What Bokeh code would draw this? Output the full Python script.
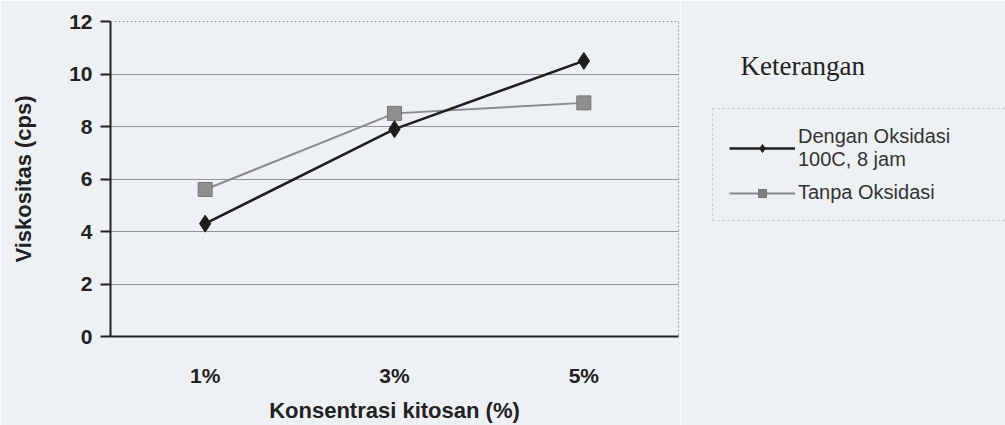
from bokeh.plotting import figure
from bokeh.layouts import row
from bokeh.models import Legend, LegendItem, Label, FixedTicker
from bokeh.embed import file_html
from bokeh.resources import INLINE

categories = ["1%", "3%", "5%"]
dengan_oksidasi = [4.3, 7.9, 10.5]
tanpa_oksidasi = [5.6, 8.5, 8.9]
y_ticks = [0, 2, 4, 6, 8, 10, 12]
label_dengan = "Dengan Oksidasi\n100C, 8 jam"
label_tanpa = "Tanpa Oksidasi"
legend_title = "Keterangan"
x_title = "Konsentrasi kitosan (%)"
y_title = "Viskositas (cps)"

BG = "#eef1f4"
INK = "#222222"
DARK = "#1e1e1e"
GREY = "#8a8a8a"
NAN = float("nan")

# ---------------- main chart ----------------
p = figure(x_range=categories, y_range=(0, 12), width=680, height=425,
           output_backend="svg", toolbar_location=None,
           min_border_left=110, min_border_right=2, min_border_top=21,
           min_border_bottom=89)
p.background_fill_color = BG
p.border_fill_color = BG
p.outline_line_color = "#9a9a9a"
p.outline_line_dash = "2 2"
p.outline_line_width = 1

p.xgrid.grid_line_color = None
p.ygrid.grid_line_color = "#949494"
p.ygrid.grid_line_width = 1

for ax in (p.xaxis[0], p.yaxis[0]):
    ax.axis_line_color = INK
    ax.axis_line_width = 2
    ax.major_tick_line_color = INK
    ax.major_tick_line_width = 2
    ax.minor_tick_line_color = None
    ax.major_label_text_font = "Liberation Sans"
    ax.major_label_text_font_style = "bold"
    ax.major_label_text_font_size = "21px"
    ax.major_label_text_color = INK
    ax.axis_label_text_font = "Liberation Sans"
    ax.axis_label_text_font_style = "bold"
    ax.axis_label_text_font_size = "22px"
    ax.axis_label_text_color = INK

yax = p.yaxis[0]
yax.ticker = FixedTicker(ticks=y_ticks)
yax.major_tick_in = 0
yax.major_tick_out = 10
yax.major_label_standoff = 8
yax.axis_label = y_title
yax.axis_label_standoff = 30

xax = p.xaxis[0]
xax.major_tick_in = 0
xax.major_tick_out = 0
xax.major_label_standoff = 27
xax.axis_label = x_title
xax.axis_label_standoff = 8

p.line(categories, tanpa_oksidasi, line_color=GREY, line_width=2)
p.scatter(categories, tanpa_oksidasi, marker="square", size=14,
          fill_color="#8e8e8e", line_color="#777777")
p.line(categories, dengan_oksidasi, line_color=DARK, line_width=2.6)
p.scatter(categories, dengan_oksidasi, marker="diamond", size=17,
          fill_color=DARK, line_color=DARK)

# ---------------- legend panel (frame aligned with main frame) ----------------
q = figure(width=325, height=425, output_backend="svg", toolbar_location=None,
           x_axis_type=None, y_axis_type=None, x_range=(0, 325), y_range=(0, 315),
           min_border=0)
q.background_fill_color = BG
q.border_fill_color = BG
q.outline_line_color = None
q.grid.grid_line_color = None

# legend sample renderers (no visible data)
ld = q.line([NAN], [NAN], line_color=DARK, line_width=2.6)
ldm = q.scatter([NAN], [NAN], marker="diamond", size=11, fill_color=DARK, line_color=DARK)
lt = q.line([NAN], [NAN], line_color=GREY, line_width=2)
ltm = q.scatter([NAN], [NAN], marker="square", size=9, fill_color="#7e7e7e", line_color="#777777")

legend = Legend(items=[
    LegendItem(label=label_dengan, renderers=[ld, ldm]),
    LegendItem(label=label_tanpa, renderers=[lt, ltm]),
])
legend.location = (32, 115)
legend.margin = 0
legend.padding = 16
legend.spacing = 10
legend.glyph_width = 66
legend.label_standoff = 3
legend.label_text_font = "Liberation Sans"
legend.label_text_font_size = "20px"
legend.label_text_color = "#333333"
legend.label_width = 260
legend.background_fill_color = BG
legend.background_fill_alpha = 1
legend.border_line_color = "#b0b0b0"
legend.border_line_dash = "2 2"
q.add_layout(legend)

title = Label(x=60, y=271, text=legend_title, text_font="Liberation Serif",
              text_baseline="alphabetic",
              text_font_size="27px", text_color=INK)
q.add_layout(title)

layout = row(p, q, spacing=0)
open("out.html", "w").write(file_html(layout, INLINE))
